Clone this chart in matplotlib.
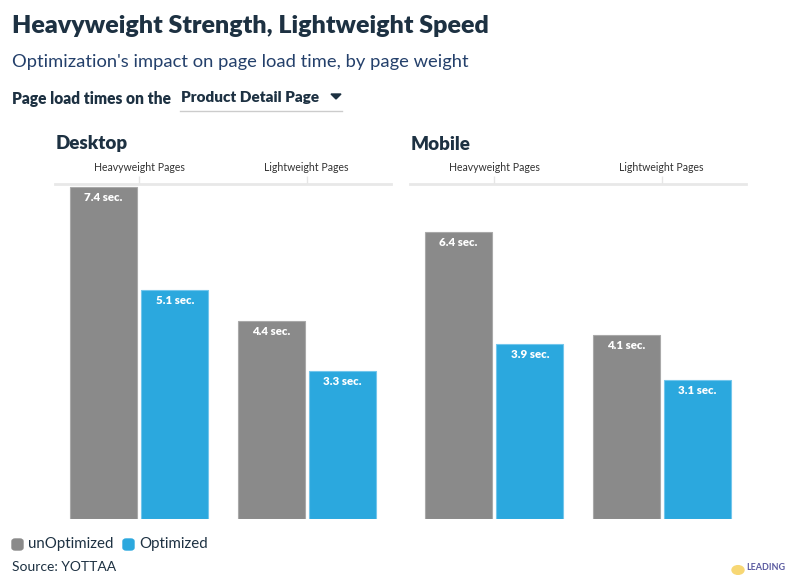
import numpy as np
import matplotlib
matplotlib.use("Agg")
import matplotlib.pyplot as plt
from matplotlib.patches import FancyBboxPatch, Circle

plt.rcParams['font.family'] = ['Lato', 'DejaVu Sans']

# data
panels = ["Desktop", "Mobile"]
categories = ["Heavyweight Pages", "Lightweight Pages"]
unoptimized = {"Desktop": [7.4, 4.4], "Mobile": [6.4, 4.1]}
optimized = {"Desktop": [5.1, 3.3], "Mobile": [3.9, 3.1]}
series_names = ["unOptimized", "Optimized"]

gray = "#8a8a8a"
blue = "#2ba8de"
navy = "#1d3142"

W, H = 796, 575
fig = plt.figure(figsize=(W / 100, H / 100), dpi=100)

def fx(px):
    return px / W

def fy(py):
    return 1 - py / H

# headings
fig.text(fx(12), fy(26), "Heavyweight Strength, Lightweight Speed", fontsize=18,
         fontweight="heavy", color=navy, va="center", ha="left")
fig.text(fx(12), fy(62), "Optimization's impact on page load time, by page weight",
         fontsize=13.2, color="#24406b", va="center", ha="left")
fig.text(fx(12), fy(99), "Page load times on the", fontsize=11.2, fontweight="heavy",
         color=navy, va="center", ha="left")
fig.text(fx(181), fy(97), "Product Detail Page", fontsize=11, fontweight="heavy",
         color=navy, va="center", ha="left")
fig.patches.append(plt.Polygon([[fx(331), fy(94)], [fx(341), fy(94)], [fx(336), fy(99)]],
                               closed=True, color=navy, transform=fig.transFigure))
fig.lines.append(plt.Line2D([fx(180), fx(342)], [fy(111), fy(111)], color="#cccccc",
                            lw=1, transform=fig.transFigure))

x = np.arange(len(categories))
bw = 0.40
off = 0.2125
lefts = [55, 410]
for i, p in enumerate(panels):
    ax = fig.add_axes([fx(lefts[i]), fy(519), 336 / W, 335 / H])
    b1 = ax.bar(x - off, unoptimized[p], bw, color=gray, edgecolor="#a9a9a9", lw=0.8)
    b2 = ax.bar(x + off, optimized[p], bw, color=blue, edgecolor="#73c6ec", lw=0.8)
    for bars in (b1, b2):
        for r in bars:
            ax.annotate(f"{r.get_height():.1f} sec.", (r.get_x() + r.get_width() / 2, r.get_height()),
                        xytext=(0, -7.5), textcoords="offset points", ha="center", va="center",
                        color="white", fontsize=8.3, fontweight="heavy")
    ax.set_xlim(-0.503, 1.503)
    ax.set_ylim(0, 7.46)
    ax.set_yticks([])
    ax.xaxis.tick_top()
    ax.set_xticks(x)
    ax.set_xticklabels(categories, fontsize=7.6, color="#333333")
    ax.tick_params(axis="x", length=6, width=1, color="#e6e6e6", pad=2)
    for s in ["bottom", "left", "right"]:
        ax.spines[s].set_visible(False)
    ax.spines["top"].set_color("#e8e8e8")
    ax.spines["top"].set_linewidth(2)
    fig.text(fx(lefts[i] + 1), fy(144), p, fontsize=13.5, fontweight="heavy", color=navy,
             va="center", ha="left")

# legend
lx = [12, 123]
for name, c, px in zip(series_names, [gray, blue], lx):
    fig.patches.append(FancyBboxPatch((fx(px), fy(550)), 11 / W, 11 / H,
                                      boxstyle="round,pad=0,rounding_size=0.004",
                                      color=c, transform=fig.transFigure))
    fig.text(fx(px + 16), fy(544), name, fontsize=10.8, color=navy, va="center", ha="left")

fig.text(fx(12), fy(573), "Source: YOTTAA", fontsize=10, color=navy, va="bottom", ha="left")

# logo
fig.patches.append(Circle((fx(738), fy(570)), 6 / W, color="#f7d774", transform=fig.transFigure))
fig.text(fx(746), fy(568), "LEADING", fontsize=6.5, fontweight="bold", color="#5a5aa0",
         va="center", ha="left")

fig.savefig("out.png", dpi=100)
